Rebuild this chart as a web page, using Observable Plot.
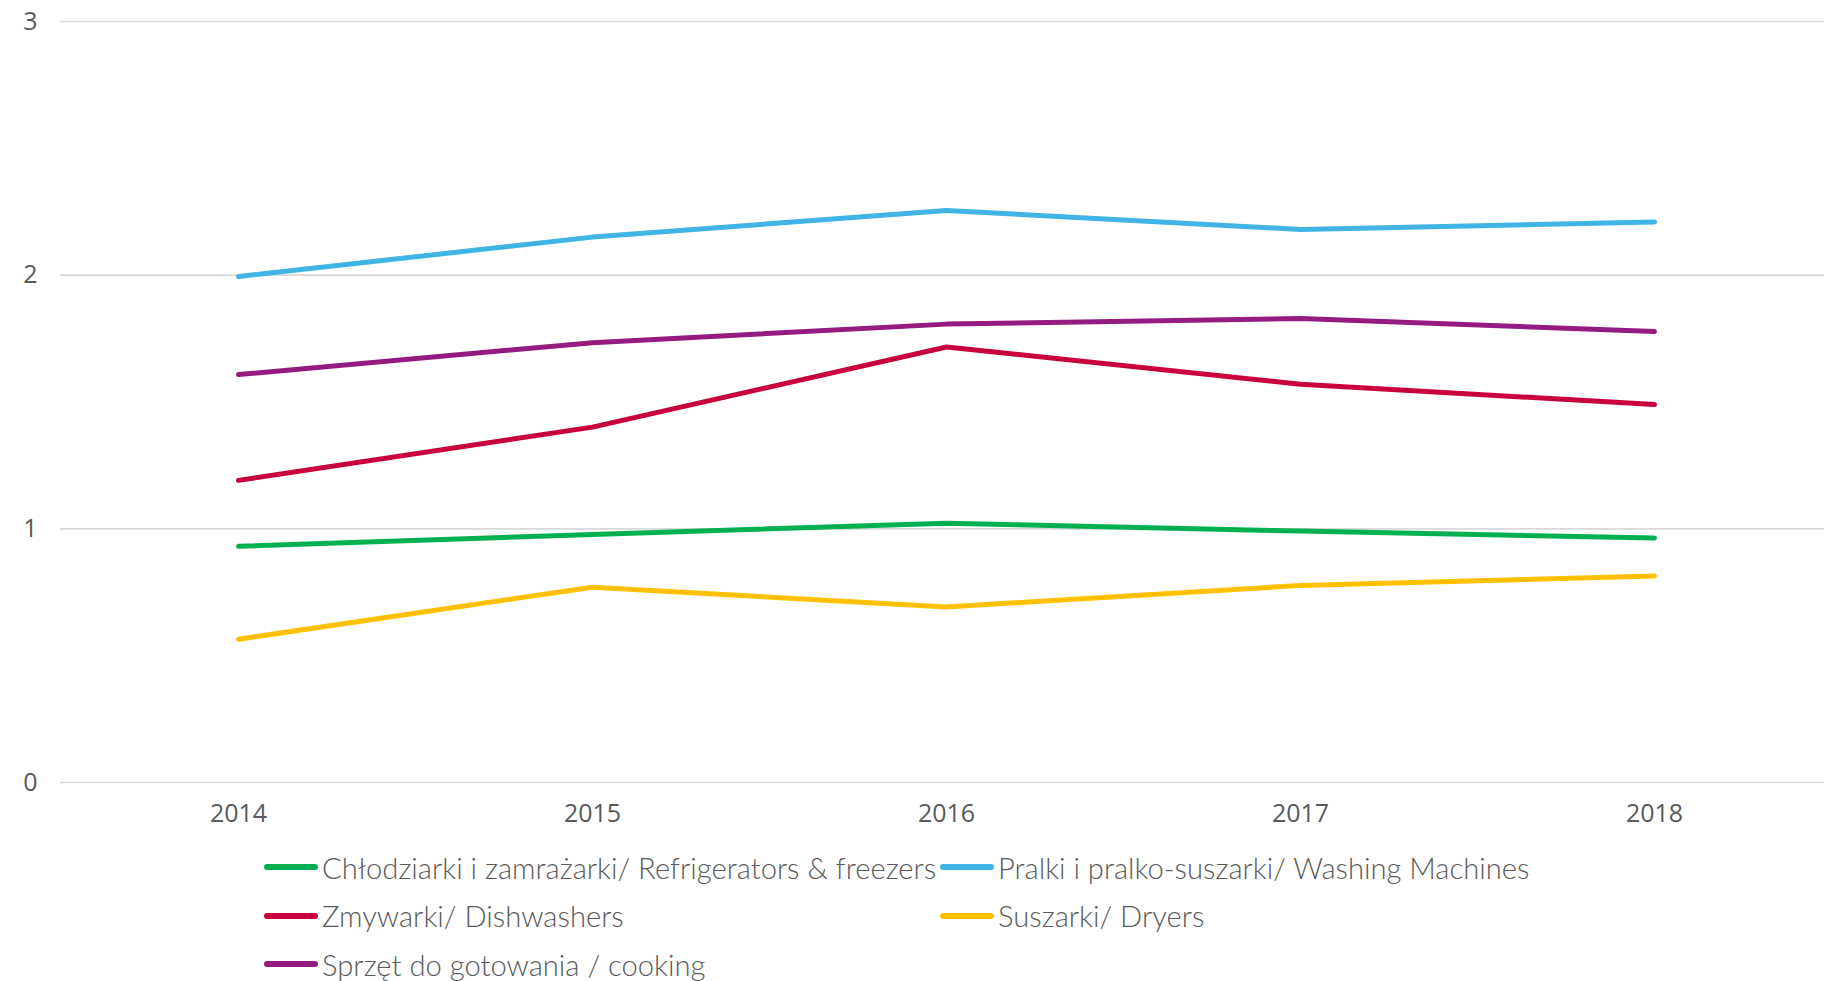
<!DOCTYPE html>
<html>
<head>
<meta charset="utf-8">
<script src="https://cdn.jsdelivr.net/npm/d3@7"></script>
<script src="https://cdn.jsdelivr.net/npm/@observablehq/plot@0.6"></script>
<style>
  html, body { margin: 0; padding: 0; background: #fff; overflow: hidden; }
  #wrap { position: relative; width: 1824px; height: 981px; }
  .leg { position: absolute; display: flex; align-items: center; height: 40px;
         font-family: Lato, "Open Sans", sans-serif; font-weight: 300; font-size: 29.2px; color: #595959; white-space: nowrap; }
  .leg .sw { width: 54px; height: 6px; border-radius: 3px; margin-right: 4px; }
</style>
</head>
<body>
<div id="wrap"></div>
<script>
const years = ["2014", "2015", "2016", "2017", "2018"];
const seriesNames = [
  "Chłodziarki i zamrażarki/ Refrigerators & freezers",
  "Pralki i pralko-suszarki/ Washing Machines",
  "Zmywarki/ Dishwashers",
  "Suszarki/ Dryers",
  "Sprzęt do gotowania / cooking"
];
const seriesColors = ["#00B050", "#3FB4E5", "#C8003C", "#FFC000", "#951B81"];
const refrigerators = [0.931, 0.978, 1.022, 0.991, 0.964];
const washing = [1.995, 2.150, 2.255, 2.180, 2.210];
const dishwashers = [1.191, 1.401, 1.717, 1.570, 1.490];
const dryers = [0.565, 0.770, 0.692, 0.777, 0.814];
const cooking = [1.608, 1.734, 1.807, 1.829, 1.778];
const yTicks = [0, 1, 2, 3];

const seriesValues = [refrigerators, washing, dishwashers, dryers, cooking];
const data = [];
seriesNames.forEach((name, i) => {
  years.forEach((y, j) => data.push({series: name, year: y, value: seriesValues[i][j]}));
});

const chart = Plot.plot({
  width: 1824,
  height: 840,
  marginTop: 21,
  marginBottom: 58,
  marginLeft: 60,
  marginRight: 0,
  style: {fontFamily: "'Open Sans', sans-serif", fontSize: "25px", color: "#595959", background: "#fff"},
  x: {type: "point", domain: years, range: [60, 1832], padding: 0.5},
  y: {domain: [0, 3]},
  color: {domain: seriesNames, range: seriesColors},
  marks: [
    Plot.ruleY(yTicks, {stroke: "#d9d9d9", strokeWidth: 1.6}),
    Plot.axisY(yTicks, {tickSize: 0, tickPadding: 23, label: null, fill: "#595959", fontSize: 25, tickFormat: d => String(d)}),
    Plot.axisX(years, {tickSize: 0, tickPadding: 22, label: null, fill: "#595959", fontSize: 25}),
    Plot.line(data, {x: "year", y: "value", z: "series", stroke: "series", strokeWidth: 5, strokeLinecap: "round", strokeLinejoin: "round"})
  ]
});

const wrap = document.getElementById("wrap");
wrap.appendChild(chart);

// legend (two columns, rows top-to-bottom)
const colX = [264, 940];
const rowY = [867, 915.5, 964];
seriesNames.forEach((name, i) => {
  const col = i % 2, row = Math.floor(i / 2);
  const div = document.createElement("div");
  div.className = "leg";
  div.style.left = colX[col] + "px";
  div.style.top = (rowY[row] - 20) + "px";
  const sw = document.createElement("span");
  sw.className = "sw";
  sw.style.background = seriesColors[i];
  const tx = document.createElement("span");
  tx.textContent = name;
  div.appendChild(sw);
  div.appendChild(tx);
  wrap.appendChild(div);
});
</script>
</body>
</html>
